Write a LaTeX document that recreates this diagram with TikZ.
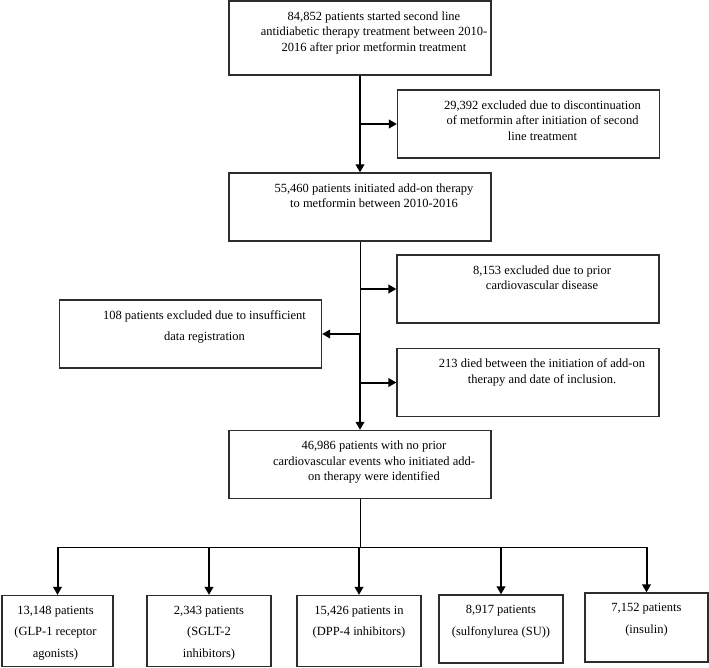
\documentclass[tikz,border=0pt]{standalone}
\usepackage{fontspec}
\setmainfont{Liberation Serif}
\usetikzlibrary{arrows.meta,positioning,calc}
\definecolor{boxline}{RGB}{45,45,45}

\begin{document}
\begin{tikzpicture}[
    x=1pt, y=-1pt,
    flowbox/.style={
        rectangle, draw=boxline, line width=1.2pt, inner sep=0pt,
        minimum width=262pt, minimum height=68pt
    },
    groupbox/.style={flowbox, minimum width=124pt, minimum height=71pt},
    boxtext/.style={
        anchor=north, inner sep=0pt, yshift=-11pt,
        align=center, font=\fontsize{12.5}{15.5}\selectfont
    },
    widetext/.style={boxtext, font=\fontsize{12.5}{21.5}\selectfont},
    arrow/.style={-{Triangle[length=8pt,width=8.5pt]}, line width=2pt},
    thinline/.style={line width=1pt}
]
\useasboundingbox (0,0) rectangle (709,668);

% Main flow
\node[flowbox, minimum height=74pt] (start) at (360,38) {};
\node[boxtext] (starttext) at ([xshift=14pt]start.north) {
    84,852 patients started second line\\
    antidiabetic therapy treatment between 2010-\\
    2016 after prior metformin treatment
};
\node[flowbox] (addon) at (360,207) {};
\node[boxtext] (addontext) at ([xshift=14pt]addon.north) {
    55,460 patients initiated add-on therapy\\
    to metformin between 2010-2016
};
\node[flowbox] (cohort) at (360,464.5) {};
\node[boxtext] (cohorttext) at ([xshift=14pt]cohort.north) {
    46,986 patients with no prior\\
    cardiovascular events who initiated add-\\
    on therapy were identified
};

% Exclusions
\node[flowbox] (exmet) at (528.5,124) {};
\node[boxtext] (exmettext) at ([xshift=14pt]exmet.north) {
    29,392 excluded due to discontinuation\\
    of metformin after initiation of second\\
    line treatment
};
\node[flowbox] (excvd) at (528,289) {};
\node[boxtext] (excvdtext) at ([xshift=14pt]excvd.north) {
    8,153 excluded due to prior\\
    cardiovascular disease
};
\node[flowbox] (exdata) at (190.5,334) {};
\node[widetext] (exdatatext) at ([xshift=14pt]exdata.north) {
    108 patients excluded due to insufficient\\
    data registration
};
\node[flowbox] (exdied) at (528,382.5) {};
\node[boxtext] (exdiedtext) at ([xshift=14pt]exdied.north) {
    213 died between the initiation of add-on\\
    therapy and date of inclusion.
};

% Treatment groups
\node[groupbox, minimum width=111pt] (glp) at (57.5,631) {};
\node[widetext] (glptext) at ([xshift=-2pt]glp.north) {
    13,148 patients\\ (GLP-1 receptor\\ agonists)
};
\node[groupbox] (sglt) at (209,631) {};
\node[widetext] (sglttext) at (sglt.north) {
    2,343 patients\\ (SGLT-2\\ inhibitors)
};
\node[groupbox] (dpp) at (359,631) {};
\node[widetext] (dpptext) at (dpp.north) {
    15,426 patients in\\ (DPP-4 inhibitors)
};
\node[groupbox, minimum height=68pt] (su) at (501,629) {};
\node[widetext] (sutext) at (su.north) {
    8,917 patients\\ (sulfonylurea (SU))
};
\node[groupbox, minimum width=123pt, minimum height=69pt] (ins) at (646.5,627.5) {};
\node[widetext] (instext) at (ins.north) {
    7,152 patients\\ (insulin)
};

% Connectors
\draw[arrow] (start) -- (addon);
\draw[arrow] (start |- exmet) -- (exmet);
\draw[thinline] (addon) -- (addon |- exdata);
\draw[arrow] (addon |- exdata) -- (cohort);
\draw[arrow] (addon |- excvd) -- (excvd);
\draw[arrow] (addon |- exdata) -- (exdata);
\draw[arrow] (addon |- exdied) -- (exdied);

\coordinate (split) at (360,547);
\draw[thinline] (cohort) -- (split);
\draw[thinline] (glp |- split) -- (ins |- split);
\foreach \g in {glp,sglt,dpp,su,ins}
    \draw[arrow] (\g |- split) -- (\g);

\end{tikzpicture}
\end{document}
